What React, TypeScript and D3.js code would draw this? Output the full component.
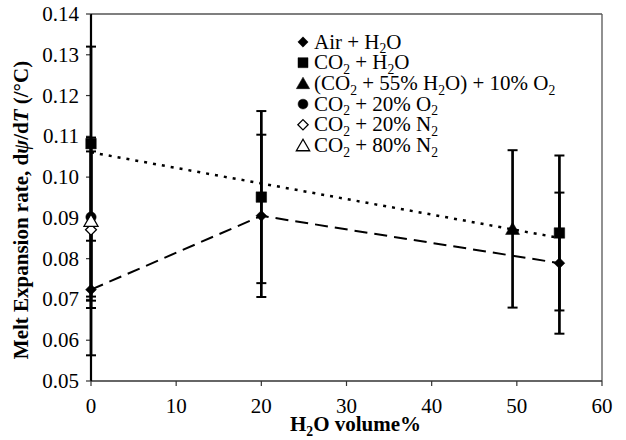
import React from 'react';
import * as d3 from 'd3';

// H2O volume % and melt expansion rate (/°C), with error half-widths
const airX = [0, 20, 55];
const airY = [0.0724, 0.0905, 0.0789];
const airErr = [0.0161, 0.0199, 0.0173];

const co2X = [0, 20, 55];
const co2Y = [0.1082, 0.0951, 0.0863];
const co2Err = [0.0238, 0.0211, 0.019];

const co2o2h2oX = [49.5];
const co2o2h2oY = [0.0873];
const co2o2h2oErr = [0.0193];

const co2o2X = [0];
const co2o2Y = [0.0902];
const co2o2Err = [0.0195];

const co2n2aX = [0];
const co2n2aY = [0.0871];
const co2n2aErr = [0.0192];

const co2n2bX = [0];
const co2n2bY = [0.0893];
const co2n2bErr = [0.0196];

const xTicks = [0, 10, 20, 30, 40, 50, 60];
const yTicks = [0.05, 0.06, 0.07, 0.08, 0.09, 0.1, 0.11, 0.12, 0.13, 0.14];

const legendLabels = [
  'Air + H_2O',
  'CO_2 + H_2O',
  '(CO_2 + 55% H_2O) + 10% O_2',
  'CO_2 + 20% O_2',
  'CO_2 + 20% N_2',
  'CO_2 + 80% N_2',
];

const W = 626, H = 440;
const m = { left: 91, right: 24, top: 14, bottom: 59 };
const FONT = '"Liberation Serif", "Times New Roman", serif';

const x = d3.scaleLinear().domain([0, 60]).range([m.left, W - m.right]);
const y = d3.scaleLinear().domain([0.05, 0.14]).range([H - m.bottom, m.top]);

type Shape = 'diamond' | 'square' | 'triangle' | 'circle';

const symType: Record<Shape, d3.SymbolType> = {
  diamond: d3.symbolDiamond2,
  square: d3.symbolSquare,
  triangle: d3.symbolTriangle,
  circle: d3.symbolCircle,
};
const symSize: Record<Shape, number> = { diamond: 75, square: 110, triangle: 85, circle: 85 };

function Marker({ shape, filled, cx, cy, scale = 1 }: { shape: Shape; filled: boolean; cx: number; cy: number; scale?: number }) {
  const size = symSize[shape] * scale * scale;
  const dy = shape === 'triangle' ? 1.5 * scale : 0;
  const p = d3.symbol().type(symType[shape]).size(size)()!;
  return (
    <path
      d={p}
      transform={`translate(${cx},${cy + dy})`}
      fill={filled ? '#000' : '#fff'}
      stroke="#000"
      strokeWidth={filled ? 0.5 : 1.3}
    />
  );
}

function Sub({ text, size, x0, y0, anchor = 'start', bold = false }: { text: string; size: number; x0: number; y0: number; anchor?: string; bold?: boolean }) {
  const parts = text.split(/_(\d)/);
  const off = size * 0.22;
  return (
    <text x={x0} y={y0} fontFamily={FONT} fontSize={size} fontWeight={bold ? 'bold' : 'normal'} textAnchor={anchor}>
      {parts.map((s, i) =>
        i % 2 === 1 ? (
          <tspan key={i} fontSize={size * 0.65} dy={off}>{s}</tspan>
        ) : (
          <tspan key={i} dy={i === 0 ? 0 : -off}>{s}</tspan>
        )
      )}
    </text>
  );
}

function ErrorBars({ xs, ys, es }: { xs: number[]; ys: number[]; es: number[] }) {
  return (
    <g stroke="#000" strokeWidth={2}>
      {xs.map((xv, i) => {
        const px = x(xv);
        const top = y(ys[i] + es[i]);
        const bot = y(ys[i] - es[i]);
        return (
          <g key={i}>
            <line x1={px} x2={px} y1={top} y2={bot} strokeWidth={2.7} />
            <line x1={px - 5} x2={px + 5} y1={top} y2={top} />
            <line x1={px - 5} x2={px + 5} y1={bot} y2={bot} />
          </g>
        );
      })}
    </g>
  );
}

export default function App() {
  // linear trend line through CO2 + H2O points
  const mx = d3.mean(co2X)!;
  const my = d3.mean(co2Y)!;
  const slope =
    d3.sum(co2X.map((v, i) => (v - mx) * (co2Y[i] - my))) / d3.sum(co2X.map((v) => (v - mx) ** 2));
  const icpt = my - slope * mx;
  const trendX = [d3.min(co2X)!, d3.max(co2X)!];
  const trendLine = d3
    .line<number>()
    .x((v) => x(v))
    .y((v) => y(icpt + slope * v))(trendX)!;

  const airLine = d3
    .line<number>()
    .x((v) => x(v))
    .y((_, i) => y(airY[i]))(airX)!;

  const x0 = x(0), x1 = x(60), yb = y(0.05), yt = y(0.14);

  const legendShapes: [Shape, boolean][] = [
    ['diamond', true],
    ['square', true],
    ['triangle', true],
    ['circle', true],
    ['diamond', false],
    ['triangle', false],
  ];

  return (
    <svg width={W} height={H} style={{ position: 'absolute', left: 0, top: 0, background: '#fff' }}>
      <rect width={W} height={H} fill="#fff" />
      {/* frame */}
      <line x1={x0} x2={x1} y1={yt} y2={yt} stroke="#555" strokeWidth={1.3} />
      <line x1={x1} x2={x1} y1={yt} y2={yb} stroke="#555" strokeWidth={1.3} />
      <line x1={x0} x2={x1} y1={yb} y2={yb} stroke="#333" strokeWidth={1.5} />
      <line x1={x0} x2={x0} y1={yt} y2={yb} stroke="#000" strokeWidth={2.2} />

      {yTicks.map((t) => (
        <g key={t}>
          <line x1={x0 - 5} x2={x0} y1={y(t)} y2={y(t)} stroke="#333" strokeWidth={1.2} />
          <text x={x0 - 12} y={y(t) + 7} textAnchor="end" fontFamily={FONT} fontSize={21}>
            {t.toFixed(2)}
          </text>
        </g>
      ))}
      {xTicks.map((t) => (
        <g key={t}>
          <line x1={x(t)} x2={x(t)} y1={yb} y2={yb + 5} stroke="#333" strokeWidth={1.2} />
          <text x={x(t)} y={yb + 32} textAnchor="middle" fontFamily={FONT} fontSize={21}>
            {t}
          </text>
        </g>
      ))}

      <Sub text="H_2O volume%" size={21} x0={290} y0={431} bold />
      <text
        transform={`translate(28,210) rotate(-90)`}
        textAnchor="middle"
        fontFamily={FONT}
        fontSize={21}
        fontWeight="bold"
      >
        Melt Expansion rate, d<tspan fontStyle="italic">ψ</tspan>/d<tspan fontStyle="italic">T</tspan> (/°C)
      </text>

      <path d={trendLine} fill="none" stroke="#000" strokeWidth={2.5} strokeDasharray="3,6" />
      <path d={airLine} fill="none" stroke="#000" strokeWidth={2} strokeDasharray="13,7" />

      <ErrorBars xs={co2X} ys={co2Y} es={co2Err} />
      <ErrorBars xs={airX} ys={airY} es={airErr} />
      <ErrorBars xs={co2o2h2oX} ys={co2o2h2oY} es={co2o2h2oErr} />
      <ErrorBars xs={co2o2X} ys={co2o2Y} es={co2o2Err} />
      <ErrorBars xs={co2n2aX} ys={co2n2aY} es={co2n2aErr} />
      <ErrorBars xs={co2n2bX} ys={co2n2bY} es={co2n2bErr} />

      {co2X.map((v, i) => <Marker key={'s' + i} shape="square" filled cx={x(v)} cy={y(co2Y[i])} />)}
      {airX.map((v, i) => <Marker key={'d' + i} shape="diamond" filled cx={x(v)} cy={y(airY[i])} />)}
      {co2o2h2oX.map((v, i) => <Marker key={'t' + i} shape="triangle" filled cx={x(v)} cy={y(co2o2h2oY[i])} />)}
      {co2o2X.map((v, i) => <Marker key={'c' + i} shape="circle" filled cx={x(v)} cy={y(co2o2Y[i])} />)}
      {co2n2aX.map((v, i) => <Marker key={'od' + i} shape="diamond" filled={false} cx={x(v)} cy={y(co2n2aY[i])} />)}
      {co2n2bX.map((v, i) => <Marker key={'ot' + i} shape="triangle" filled={false} cx={x(v)} cy={y(co2n2bY[i])} />)}

      {legendLabels.map((lab, i) => {
        const ly = 42 + i * 20.7;
        const [sh, f] = legendShapes[i];
        return (
          <g key={lab}>
            <Marker shape={sh} filled={f} cx={303} cy={ly} scale={0.95} />
            <Sub text={lab} size={21} x0={314} y0={ly + 6.5} />
          </g>
        );
      })}
    </svg>
  );
}
